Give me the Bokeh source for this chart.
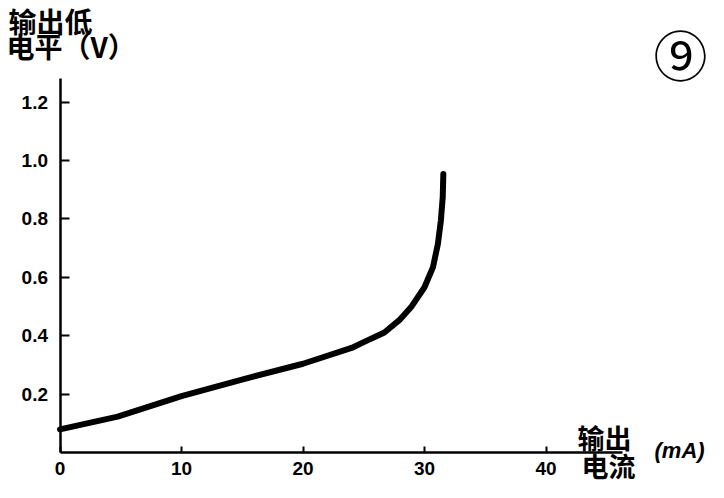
from bokeh.plotting import figure
from bokeh.models import Label, FixedTicker, Range1d, PrintfTickFormatter
from bokeh.embed import file_html
from bokeh.resources import INLINE

# Data
current_mA = [0, 4.75, 10, 14.9, 20, 24, 25, 26.7, 28, 28.9, 30.0, 30.7, 31.1, 31.35, 31.5, 31.55]
low_level_V = [0.079, 0.123, 0.193, 0.249, 0.304, 0.358, 0.378, 0.411, 0.456, 0.498, 0.566, 0.635, 0.714, 0.795, 0.874, 0.954]
x_ticks = [0, 10, 20, 30, 40]
y_ticks = [0.2, 0.4, 0.6, 0.8, 1.0, 1.2]
x_axis_end = 46.3
y_axis_end = 1.28

W, H = 724, 498
# pixel geometry of the axes origin and scale within the canvas
OX, OY = 59.5, 452        # px of data (0, 0)
SX, SY = 12.15, 292.0     # px per mA, px per V
X0 = -OX / SX
X1 = (W - OX) / SX
Y1 = OY / SY
Y0 = (OY - H) / SY

p = figure(width=W, height=H, output_backend="svg", toolbar_location=None,
           x_range=Range1d(X0, X1), y_range=Range1d(Y0, Y1),
           min_border=0)
p.outline_line_color = None
p.xgrid.visible = False
p.ygrid.visible = False

for ax in (p.xaxis[0], p.yaxis[0]):
    ax.fixed_location = 0
    ax.axis_line_color = "black"
    ax.axis_line_width = 2.5
    ax.major_tick_line_color = "black"
    ax.major_tick_line_width = 2
    ax.minor_tick_line_color = None
    ax.major_tick_out = 0
    ax.major_label_text_color = "black"
    ax.major_label_text_font = "Liberation Sans"
    ax.major_label_text_font_style = "bold"
    ax.major_label_text_font_size = "19px"

p.xaxis.bounds = (0, x_axis_end)
p.yaxis.bounds = (0, y_axis_end)
p.xaxis.ticker = FixedTicker(ticks=x_ticks)
p.yaxis.ticker = FixedTicker(ticks=y_ticks)
p.yaxis.formatter = PrintfTickFormatter(format="%.1f")
p.xaxis.major_tick_in = 6
p.yaxis.major_tick_in = 9
p.xaxis.major_label_standoff = 9
p.yaxis.major_label_standoff = 12

p.line(current_mA, low_level_V, line_color="black", line_width=6,
       line_join="round", line_cap="round")

cjk = "Noto Sans CJK SC"

def lab(text, px, py, size, font=cjk, style="bold", align="left", baseline="top"):
    # px, py: pixels from the top-left of the canvas, converted to data coordinates
    p.add_layout(Label(x=(px - OX) / SX, y=(OY - py) / SY, text=text, text_font=font,
                       text_font_size=size, text_font_style=style, text_color="black",
                       text_align=align, text_baseline=baseline))

lab("输出低", 8, 0, "28px")
lab("电平（V）", 6, 25, "28px")
lab("输出", 577, 417, "27px")
lab("电流", 581, 445, "27px")
lab("(mA)", 654, 437, "22px", font="Liberation Sans", style="bold italic")
lab("⑨", 680, 53, "54px", font=cjk, style="normal", align="center", baseline="middle")

open("out.html", "w").write(file_html(p, INLINE))
